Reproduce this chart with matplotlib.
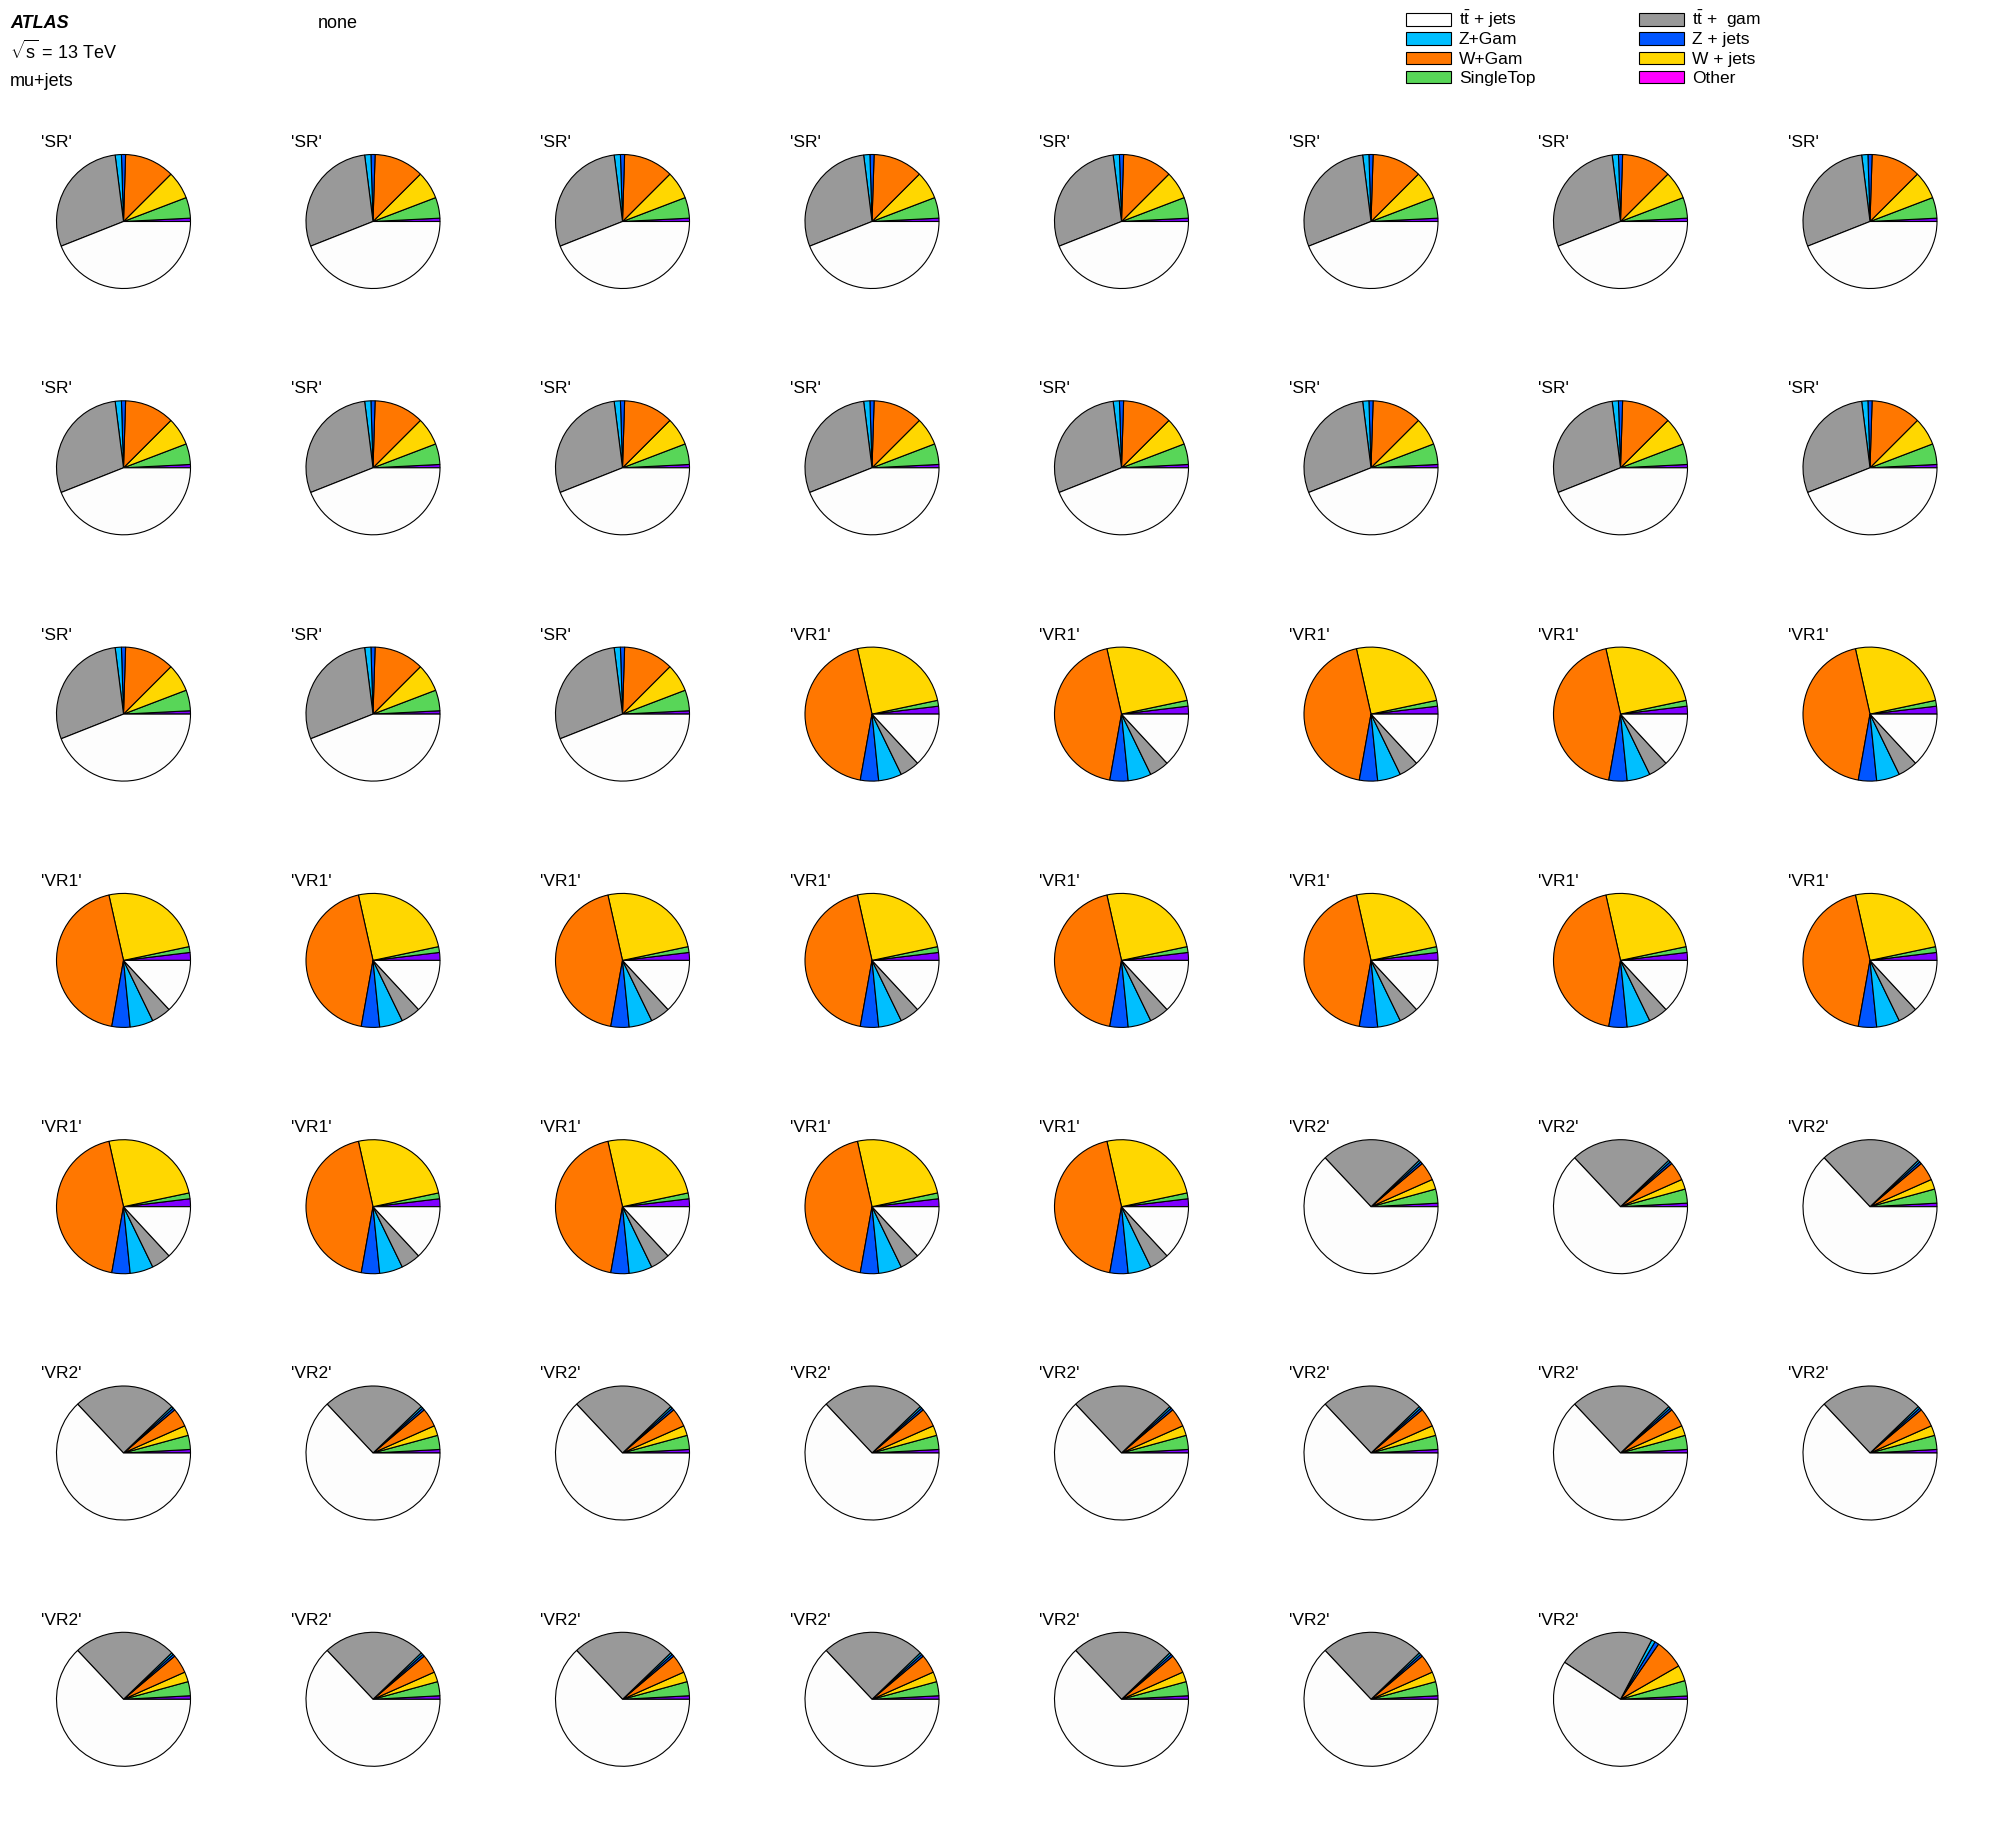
import matplotlib
matplotlib.use("Agg")
import matplotlib.pyplot as plt
from matplotlib.patches import Rectangle

plt.rcParams['font.family'] = ['Liberation Sans', 'DejaVu Sans']
plt.rcParams['mathtext.fontset'] = 'custom'
plt.rcParams['mathtext.rm'] = 'Liberation Sans'
plt.rcParams['mathtext.it'] = 'Liberation Sans:italic'

# samples in legend order
samples = [r"$\mathrm{t\bar{t}}$ + jets", r"$\mathrm{t\bar{t}}$ +  gam", "Z+Gam", "Z + jets",
           "W+Gam", "W + jets", "SingleTop", "Other"]
pie_colors = ['#FDFDFD', '#999999', '#00BFFF', '#0055FF', '#FF7700', '#FFD700', '#58D658', '#7F00FF']
legend_colors = ['#FFFFFF', '#999999', '#00BFFF', '#0055FF', '#FF7700', '#FFD700', '#58D658', '#FF00FF']

# fractions (%) per region, same order as samples
sr_frac = [44.0, 29.0, 1.5, 1.0, 12.0, 6.7, 5.0, 0.8]
vr1_frac = [13.1, 4.7, 5.6, 4.4, 43.7, 25.2, 1.4, 1.9]
vr2_frac = [63.0, 24.8, 0.5, 0.55, 4.5, 2.4, 3.4, 0.85]
vr2_last_frac = [59.3, 23.4, 0.9, 1.0, 7.1, 3.8, 3.7, 0.8]

regions = ['SR'] * 19 + ['VR1'] * 18 + ['VR2'] * 18
fracs = [sr_frac] * 19 + [vr1_frac] * 18 + [vr2_frac] * 17 + [vr2_last_frac]

W, H = 1996, 1822
fig = plt.figure(figsize=(W / 100, H / 100), dpi=100)

# overlay in pixel coordinates for header and legend
ov = fig.add_axes([0, 0, 1, 1])
ov.set_xlim(0, W)
ov.set_ylim(H, 0)
ov.axis('off')

ov.text(10, 28, "ATLAS", fontsize=13, fontweight='bold', fontstyle='italic', va='baseline')
ov.text(10, 59, r"$\sqrt{\mathrm{s}}$ = 13 TeV", fontsize=13, va='baseline')
ov.text(10, 86, "mu+jets", fontsize=13, va='baseline')
ov.text(318, 28, "none", fontsize=13, va='baseline')

# legend: two columns, four rows
for k, (name, col) in enumerate(zip(samples, legend_colors)):
    c = 0 if k % 2 == 0 else 1
    r = k // 2
    x0 = 1406 if c == 0 else 1639
    y0 = 13 + 19.3 * r
    ov.add_patch(Rectangle((x0, y0), 45, 12.5, facecolor=col, edgecolor='black', lw=0.8))
    ov.text(x0 + 53, y0 + 12, name, fontsize=12.5, va='baseline')

R = 67.0
half = 75.0
for i, (reg, vals) in enumerate(zip(regions, fracs)):
    col = i % 8
    row = i // 8
    cx = 123.5 + 249.5 * col
    cy = 221.5 + 246.3 * row
    ax = fig.add_axes([(cx - half) / W, 1 - (cy + half) / H, 2 * half / W, 2 * half / H])
    ax.pie(vals[::-1], colors=pie_colors[::-1], startangle=0, counterclock=True,
           radius=1.0, wedgeprops=dict(edgecolor='black', linewidth=0.8))
    ax.set_xlim(-half / R, half / R)
    ax.set_ylim(-half / R, half / R)
    ax.set_aspect('equal')
    ax.axis('off')
    ov.text(cx - 82, cy - 74.5, "'%s'" % reg, fontsize=12.5, va='baseline')

fig.savefig("out.png", dpi=100, facecolor='white')
